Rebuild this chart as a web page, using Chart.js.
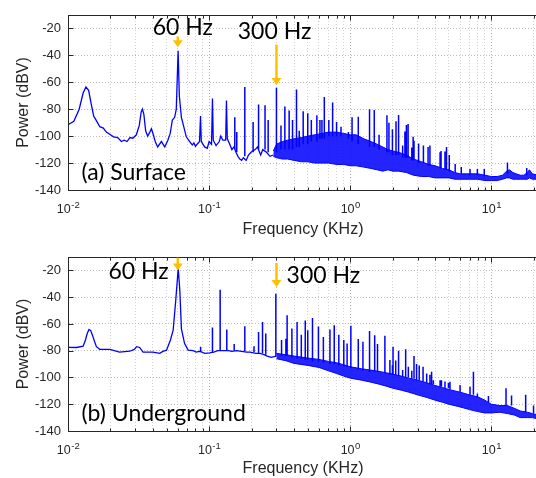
<!DOCTYPE html>
<html><head><meta charset="utf-8">
<style>
html,body{margin:0;padding:0;background:#fff;overflow:hidden;width:536px;height:478px}
.wrap{position:absolute;left:0;width:540px}
#w1{top:0;height:240px}
#w2{top:240px;height:238px}
canvas{display:block}
</style>
<script src="https://cdn.jsdelivr.net/npm/chart.js@4.4.1/dist/chart.umd.min.js"></script>
</head><body>
<div class="wrap" id="w1"><canvas id="c1" width="540" height="240"></canvas></div>
<div class="wrap" id="w2"><canvas id="c2" width="540" height="238"></canvas></div>
<script>
// ---------------- DATA (frequency in KHz, power in dBV) ----------------
// (a) Surface: continuous trace up to ~0.3 KHz
const topFreq = [0.0100,0.0110,0.0120,0.0128,0.0134,0.0140,0.0146,0.0152,0.0160,0.0168,0.0178,0.0187,0.0200,0.0210,0.0225,0.0239,0.0250,0.0262,0.0275,0.0288,0.0305,0.0320,0.0330,0.0337,0.0345,0.0355,0.0367,0.0380,0.0390,0.0400,0.0415,0.0432,0.0459,0.0485,0.0510,0.0530,0.0549,0.0570,0.0585,0.0603,0.0615,0.0636,0.0650,0.0689,0.0728,0.0760,0.0780,0.0800,0.0855,0.0869,0.0880,0.0930,0.0970,0.1000,0.1040,0.1056,0.1070,0.1120,0.1180,0.1210,0.1250,0.1310,0.1327,0.1345,0.1400,0.1450,0.1500,0.1550,0.1600,0.1650,0.1700,0.1750,0.1830,0.1900,0.1980,0.2120,0.2200,0.2320,0.2400,0.2550,0.2700,0.2850];
const topPower = [-91.5,-89,-80,-68,-63.5,-66,-76,-85,-89,-93,-94,-97,-99,-100.5,-101,-104,-103,-104,-101,-101.5,-99,-92,-82,-80,-84,-96,-100,-97,-94.5,-98,-104,-108,-104,-108,-103,-98,-88,-86,-80,-36.5,-70,-86,-90,-100.5,-104,-106.5,-105,-107.5,-104,-85,-104,-108,-109,-104,-106,-72,-103,-107,-104,-100,-103,-103,-73.5,-102,-106,-110,-108,-112,-115,-117,-118,-116,-118,-114,-112,-110,-108,-114,-110,-112,-115,-114];
// (a) Surface: dense noise band (lower / upper edge)
const topBandFreq = [0.285,0.30,0.33,0.36,0.40,0.45,0.50,0.56,0.63,0.70,0.80,0.90,1.00,1.10,1.25,1.40,1.55,1.70,1.85,2.00,2.20,2.50,2.80,3.20,3.60,4.00,4.50,5.00,5.50,6.00,7.00,8.00,9.00,10.0,11.0,12.0,12.8,13.4,14.2,15.0,16.0,17.0,18.0,18.6,19.5,21.4];
const topBandLow = [-115,-116,-117,-117,-118,-119,-119,-120,-120,-120,-121,-121,-122,-122,-123,-124,-125,-126,-125,-126,-126,-127,-129,-130,-130,-131,-131,-131,-132,-132,-132,-132,-133,-133,-133,-132,-131,-131,-132,-132,-132,-132,-132,-131,-132,-132];
const topBandHigh = [-111,-106,-104,-103,-102,-101,-100,-99,-98,-97,-97,-98,-99,-99,-102,-104,-106,-108,-110,-111,-112,-114,-117,-119,-121,-122,-124,-125,-127,-128,-128,-128,-129,-130,-130,-129,-126,-125,-127,-128,-129,-129,-127,-125,-128,-129];
// (a) Surface: harmonic spikes (frequency, peak, foot)
const topSpikeFreq = [0.152,0.157,0.179,0.205,0.224,0.249,0.262,0.300,0.323,0.344,0.369,0.390,0.416,0.435,0.464,0.50,0.53,0.58,0.61,0.63,0.655,0.705,0.75,0.80,0.86,0.97,1.03,1.14,1.37,1.48,1.60,1.82,1.88,1.99,2.11,2.20,2.35,2.44,2.50,2.57,2.73,2.79,2.83,3.05,3.30,3.56,3.67,4.33,4.40,4.69,4.81,5.03,5.54,6.12,7.06,7.96,8.90,13.0,17.8];
const topSpikePeak = [-86,-97,-63.5,-89.5,-76.5,-77,-88,-64,-92,-78,-81,-88,-65.4,-96,-81.5,-83,-88,-84.5,-88,-88,-71,-88,-75,-89.4,-93,-97,-86,-85.5,-80,-80.5,-99,-84.4,-90,-94.8,-89,-84.2,-107,-96.5,-91.8,-91,-108.4,-100.5,-103.5,-105.4,-107,-108,-107,-112,-111,-111.4,-108,-114,-120.7,-123,-124.4,-124.4,-124.4,-119.5,-123.7];
const topSpikeBase = [-110,-112,-115,-112,-110,-110,-112,-112,-110,-110,-110,-110,-108,-108,-106,-106,-104,-104,-102,-102,-102,-100,-100,-100,-100,-102,-104,-106,-108,-108,-110,-112,-112,-114,-114,-114,-116,-116,-116,-116,-118,-118,-118,-120,-120,-122,-122,-124,-124,-125,-125,-126,-127,-128,-129,-129,-130,-128,-129];

// (b) Underground: continuous trace up to 0.3 KHz
const botFreq = [0.0100,0.0115,0.0128,0.0133,0.0137,0.0141,0.0145,0.0149,0.0154,0.0159,0.0168,0.0198,0.0232,0.0274,0.0295,0.0306,0.0322,0.0340,0.0400,0.0447,0.0470,0.0499,0.0532,0.0556,0.0580,0.0604,0.0620,0.0636,0.0670,0.0710,0.0770,0.0810,0.0850,0.0890,0.0930,0.1010,0.1080,0.1150,0.1240,0.1300,0.1370,0.1450,0.1560,0.1700,0.1840,0.1950,0.2150,0.2300,0.2450,0.2580,0.2750,0.3000];
const botPower = [-77.5,-77.6,-76.6,-72,-67,-64.2,-65,-68.4,-73,-77,-79,-79,-81,-80.4,-79,-77,-77.6,-81,-81,-82,-80.5,-79.6,-72,-64.7,-42.4,-18.5,-35,-63.5,-74.7,-79.6,-80,-81,-80.5,-81,-82,-81.6,-81,-80,-80,-80,-80,-80.5,-80,-80.5,-81,-81,-82,-82,-83,-84,-85,-84];
// (b) Underground: dense noise band
const botBandFreq = [0.30,0.35,0.40,0.50,0.60,0.70,0.80,0.90,1.00,1.20,1.40,1.60,1.80,2.00,2.30,2.60,3.00,3.50,4.00,4.50,5.00,6.00,7.00,8.00,9.00,10.0,11.5,13.0,14.5,16.0,18.0,19.5,21.4];
const botBandLow = [-86,-87.5,-89.5,-91,-92.5,-95,-97,-99,-100.5,-102,-103.5,-105,-106.5,-108,-109.5,-111,-113,-115,-117,-118.5,-120,-122,-124,-125.5,-126.5,-126.5,-126,-127,-128,-130,-130,-130,-131];
const botBandHigh = [-82,-83,-84,-85.5,-86.5,-88,-89,-90.5,-92,-93.5,-94.5,-95.5,-96.5,-97.5,-99,-100.5,-102,-104,-106,-107.5,-109,-111,-113,-114.5,-117,-120,-121,-121,-123,-125,-126,-127,-128];
// (b) Underground: harmonic spikes
const botSpikeFreq = [0.087,0.1056,0.1197,0.1334,0.1505,0.179,0.208,0.224,0.239,0.252,0.297,0.326,0.350,0.357,0.386,0.42,0.45,0.48,0.50,0.54,0.595,0.645,0.718,0.77,0.83,0.90,0.95,1.01,1.14,1.23,1.37,1.49,1.56,1.76,1.91,1.99,2.01,2.10,2.20,2.35,2.47,2.58,2.73,2.83,2.95,3.08,3.28,3.48,3.67,3.77,3.88,4.33,4.43,4.69,4.96,5.09,6.00,7.06,7.46,7.96,9.53,12.7,13.9,17.5,19.9];
const botSpikePeak = [-77,-62.7,-34.4,-64.2,-75,-61.7,-76.6,-66,-58.5,-67.2,-37.4,-72,-71,-53.5,-63.5,-58.5,-68,-57.5,-64.7,-55.5,-62,-69.7,-64.2,-61,-68,-72,-74.7,-61.3,-71.2,-73.4,-65.3,-68.4,-75,-68.8,-87,-90.8,-77,-87.4,-80,-94.5,-79,-92,-95,-84,-90,-91,-92,-97,-98,-95.8,-102,-102,-102,-103,-104,-103.2,-105.7,-107,-95.8,-112,-113.8,-108,-113.4,-113,-121];
const botSpikeBase = [-81,-81,-80,-80,-80,-80.5,-81,-82,-82,-83,-84,-84,-84,-84,-85,-86,-86,-87,-87,-88,-88,-89,-90,-90,-91,-92,-92,-93,-94,-95,-96,-96,-96,-97,-98,-98,-98,-98,-99,-99,-100,-100,-101,-101,-102,-102,-103,-104,-105,-105,-105,-107,-107,-108,-108,-109,-111,-113,-113,-115,-119,-121,-121,-126,-127];

// axis ranges / tick labels
const xMin = 0.01, xMax = 21.4;
const yMin = -140, yMax = -10, yStep = 20;
const xDecades = [-2, -1, 0, 1];

// annotations (text and marker positions in data units)
const topNotes = {
  arrows: [{f: 0.06, y0: -26, y1: -34}, {f: 0.3, y0: -32, y1: -62}],
  labels: [{text: '60 Hz', f: 0.0651, y: -19.6, align: 'center'},
           {text: '300 Hz', f: 0.2908, y: -22.2, align: 'center'},
           {text: '(a) Surface', f: 0.01245, y: -126.7, align: 'left'}]
};
const botNotes = {
  arrows: [{f: 0.06, y0: -10.5, y1: -20}, {f: 0.3, y0: -14.6, y1: -32.4}],
  labels: [{text: '60 Hz', f: 0.0316, y: -20.7, align: 'center'},
           {text: '300 Hz', f: 0.3539, y: -23.7, align: 'left'},
           {text: '(b) Underground', f: 0.01245, y: -126.8, align: 'left'}]
};

// ---------------- helpers ----------------
const BLUE = '#0000ff';
const BAND = 'rgba(0,0,255,0.86)';
const AX = '#262626';
const FONT = "'Liberation Sans', Arial, sans-serif";
const NOTEFONT = "Lato, 'Open Sans', sans-serif";

const xGridValues = [];
xDecades.forEach(d => { for (let m = 1; m <= 9; m++) { const v = Number((m * Math.pow(10, d)).toPrecision(2)); if (v <= xMax) xGridValues.push(v); } });
const isDecade = v => Math.abs(Math.log10(v) - Math.round(Math.log10(v))) < 1e-6;

const pts = (fs, ps) => fs.map((f, i) => ({x: f, y: ps[i]}));
function spikePts(fs, peaks, bases) {
  const out = [];
  fs.forEach((f, i) => { out.push({x: f, y: bases[i]}, {x: f, y: peaks[i]}, {x: f, y: bases[i]}, {x: f, y: null}); });
  return out;
}

const decorPlugin = {
  id: 'decor',
  afterDraw(chart) {
    const {ctx, chartArea: a, scales: {x, y}} = chart;
    const notes = chart.options.plugins.decor.notes;
    ctx.save();
    ctx.strokeStyle = AX; ctx.lineWidth = 1;
    const L = (x1, y1, x2, y2) => { ctx.beginPath(); ctx.moveTo(x1, y1); ctx.lineTo(x2, y2); ctx.stroke(); };
    const l = Math.round(a.left) + 0.5, t = Math.round(a.top) + 0.5, b = Math.round(a.bottom) + 0.5, r = Math.round(a.right) + 0.5;
    ctx.strokeRect(l, t, r - l, b - t);
    xGridValues.forEach(v => {
      const px = Math.round(x.getPixelForValue(v)) + 0.5;
      const len = isDecade(v) ? 5 : 3;
      L(px, b, px, b - len); L(px, t, px, t + len);
    });
    y.ticks.forEach(tk => {
      const py = Math.round(y.getPixelForValue(tk.value)) + 0.5;
      L(l, py, l + 5, py);
    });
    // x tick labels 10^n
    ctx.fillStyle = AX; ctx.textAlign = 'left'; ctx.textBaseline = 'alphabetic';
    xDecades.forEach(d => {
      const px = x.getPixelForValue(Math.pow(10, d));
      const exp = String(d);
      ctx.font = '12.5px ' + FONT; const w1 = ctx.measureText('10').width;
      ctx.font = '9.5px ' + FONT; const w2 = ctx.measureText(exp).width;
      const start = px - (w1 + w2) / 2;
      ctx.font = '12.5px ' + FONT; ctx.fillText('10', start, a.bottom + 23);
      ctx.font = '9.5px ' + FONT; ctx.fillText(exp, start + w1 + 0.5, a.bottom + 17.5);
    });
    // arrows
    ctx.fillStyle = '#ffc000'; ctx.strokeStyle = '#ffc000';
    notes.arrows.forEach(ar => {
      const px = x.getPixelForValue(ar.f);
      const y0 = y.getPixelForValue(ar.y0), y1 = y.getPixelForValue(ar.y1);
      const head = 7, hw = 5;
      ctx.lineWidth = 2.5;
      L(px, y0, px, y1 - head + 1);
      ctx.beginPath(); ctx.moveTo(px - hw, y1 - head); ctx.lineTo(px + hw, y1 - head); ctx.lineTo(px, y1); ctx.closePath(); ctx.fill();
    });
    // labels
    ctx.fillStyle = '#000'; ctx.textBaseline = 'middle';
    ctx.font = '23px ' + NOTEFONT;
    notes.labels.forEach(lb => {
      ctx.textAlign = lb.align;
      ctx.fillText(lb.text, x.getPixelForValue(lb.f), y.getPixelForValue(lb.y));
    });
    ctx.restore();
  }
};

function makeChart(id, cfg) {
  return new Chart(document.getElementById(id), {
    type: 'scatter',
    data: {datasets: [
      {data: spikePts(cfg.sf, cfg.sp, cfg.sb), showLine: true, borderColor: BLUE, borderWidth: 1.5, pointRadius: 0, spanGaps: false},
      {data: pts(cfg.tf, cfg.tp), showLine: true, borderColor: BLUE, borderWidth: 1.3, pointRadius: 0},
      {data: pts(cfg.bf, cfg.bh), showLine: true, borderColor: BLUE, borderWidth: 1, pointRadius: 0, fill: '+1', backgroundColor: BAND},
      {data: pts(cfg.bf, cfg.bl), showLine: true, borderColor: BLUE, borderWidth: 1, pointRadius: 0}
    ]},
    options: {
      responsive: false, animation: false, events: [],
      layout: {padding: {top: cfg.padTop, right: 2, left: 0, bottom: 0}},
      plugins: {legend: {display: false}, tooltip: {enabled: false}, decor: {notes: cfg.notes}},
      scales: {
        x: {
          type: 'logarithmic', min: xMin, max: xMax,
          afterBuildTicks(s) { s.ticks = xGridValues.map(v => ({value: v})); },
          afterFit(s) { s.height = cfg.xAxisH; },
          ticks: {display: false},
          grid: {drawTicks: false, color: c => (c.tick && isDecade(c.tick.value)) ? '#b0b0b0' : '#d2d2d2'},
          border: {display: true, color: AX, dash: [1, 2]},
          title: {display: true, text: 'Frequency (KHz)', color: AX, font: {family: FONT, size: 16}, padding: {top: 0, bottom: cfg.titlePadB}}
        },
        y: {
          type: 'linear', min: yMin, max: yMax,
          afterFit(s) { s.width = 68; },
          ticks: {stepSize: yStep, includeBounds: false, color: AX, font: {family: FONT, size: 13}, padding: 7},
          grid: {drawTicks: false, color: '#bdbdbd'},
          border: {display: true, color: AX, dash: [1, 2]},
          title: {display: true, text: 'Power (dBV)', color: AX, font: {family: FONT, size: 16}, padding: {top: 14, bottom: 0}}
        }
      }
    },
    plugins: [decorPlugin]
  });
}

makeChart('c1', {sf: topSpikeFreq, sp: topSpikePeak, sb: topSpikeBase, tf: topFreq, tp: topPower,
  bf: topBandFreq, bl: topBandLow, bh: topBandHigh, padTop: 15, xAxisH: 50, titlePadB: 1, notes: topNotes});
makeChart('c2', {sf: botSpikeFreq, sp: botSpikePeak, sb: botSpikeBase, tf: botFreq, tp: botPower,
  bf: botBandFreq, bl: botBandLow, bh: botBandHigh, padTop: 17, xAxisH: 47, titlePadB: 0, notes: botNotes});
</script>
</body></html>
